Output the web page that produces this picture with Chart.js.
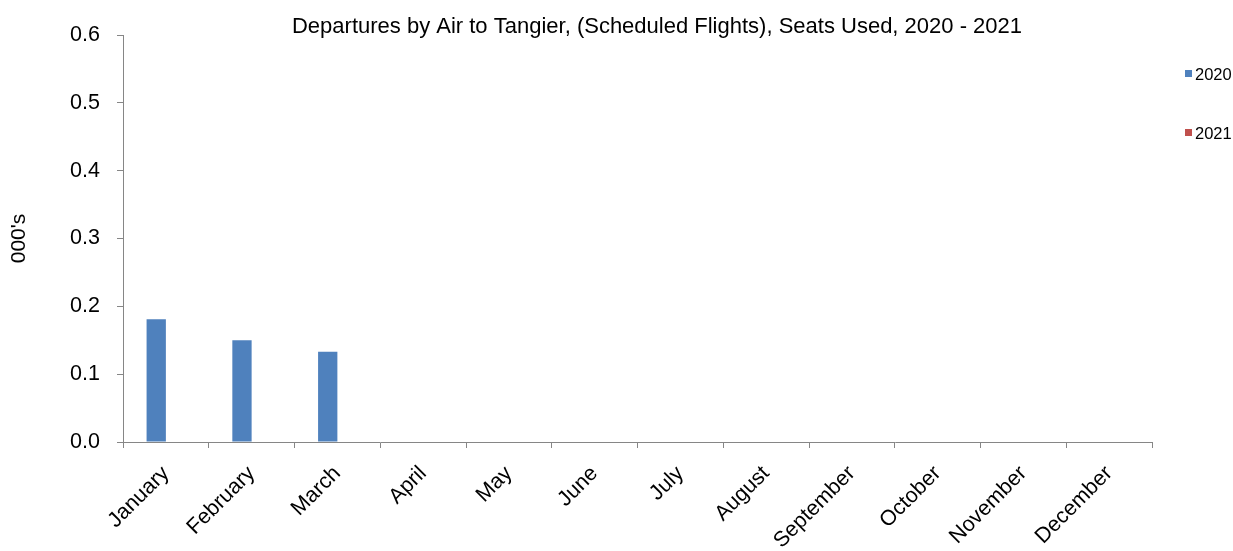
<!DOCTYPE html>
<html>
<head>
<meta charset="utf-8">
<script src="https://cdn.jsdelivr.net/npm/chart.js@4/dist/chart.umd.min.js"></script>
<style>
  html, body { margin: 0; padding: 0; background: #ffffff; }
  #wrap { width: 1233px; height: 551px; position: relative; }
</style>
</head>
<body>
<div id="wrap"><canvas id="c" width="1233" height="551"></canvas></div>
<script>
const chartTitle = "Departures by Air to Tangier, (Scheduled Flights), Seats Used, 2020 - 2021";
const yAxisTitle = "000's";
const months = ["January","February","March","April","May","June","July","August","September","October","November","December"];
const seriesNames = ["2020", "2021"];
const values2020 = [0.181, 0.150, 0.133, null, null, null, null, null, null, null, null, null];
const values2021 = [null, null, null, null, null, null, null, null, null, null, null, null];
const yTicks = [0.0, 0.1, 0.2, 0.3, 0.4, 0.5, 0.6];

const FONT = "'Liberation Sans', Arial, sans-serif";
const AXIS = "#868686";

const overlay = {
  id: 'overlay',
  afterDraw(chart) {
    const ctx = chart.ctx;
    ctx.save();
    ctx.fillStyle = '#000';
    ctx.font = "22px " + FONT;
    ctx.textAlign = 'center';
    ctx.textBaseline = 'alphabetic';
    ctx.fillText(chartTitle, 657, 33);
    ctx.font = "16.5px " + FONT;
    ctx.textAlign = 'left';
    const baselines = [80, 139];
    chart.data.datasets.forEach((ds, i) => {
      ctx.fillStyle = ds.backgroundColor;
      ctx.fillRect(1185, baselines[i] - 10, 7, 7);
      ctx.fillStyle = '#000';
      ctx.fillText(ds.label, 1195, baselines[i]);
    });
    ctx.restore();
  }
};

new Chart(document.getElementById('c'), {
  type: 'bar',
  data: {
    labels: months,
    datasets: [
      { label: seriesNames[0], data: values2020, backgroundColor: '#4F81BD', borderWidth: 0 },
      { label: seriesNames[1], data: values2021, backgroundColor: '#C0504D', borderWidth: 0 }
    ]
  },
  options: {
    responsive: false,
    animation: false,
    layout: { padding: { left: 0, right: 81, top: 35, bottom: 0 } },
    datasets: { bar: { categoryPercentage: 0.45, barPercentage: 1.0 } },
    plugins: {
      legend: { display: false },
      title: { display: false },
      tooltip: { enabled: false }
    },
    scales: {
      x: {
        offset: true,
        afterFit(s) { s.height = 109; },
        border: { display: true, color: AXIS, width: 1 },
        grid: { offset: true, drawOnChartArea: false, drawTicks: true, tickLength: 6, color: AXIS },
        ticks: {
          color: '#000', font: { family: FONT, size: 21.5 },
          minRotation: 45, maxRotation: 45, autoSkip: false, padding: 13
        }
      },
      y: {
        min: 0, max: 0.6,
        afterFit(s) { s.width = 123; },
        afterBuildTicks(s) { s.ticks = yTicks.map(v => ({ value: v })); },
        border: { display: true, color: AXIS, width: 1 },
        grid: { drawOnChartArea: false, drawTicks: true, tickLength: 6, color: AXIS },
        ticks: {
          color: '#000', font: { family: FONT, size: 21.5 }, padding: 17,
          callback: v => Number(v).toFixed(1)
        },
        title: {
          display: true, text: yAxisTitle, color: '#000',
          font: { family: FONT, size: 21, lineHeight: 1.2 }, padding: { top: 7, bottom: 0 }
        }
      }
    }
  },
  plugins: [overlay]
});
</script>
</body>
</html>
